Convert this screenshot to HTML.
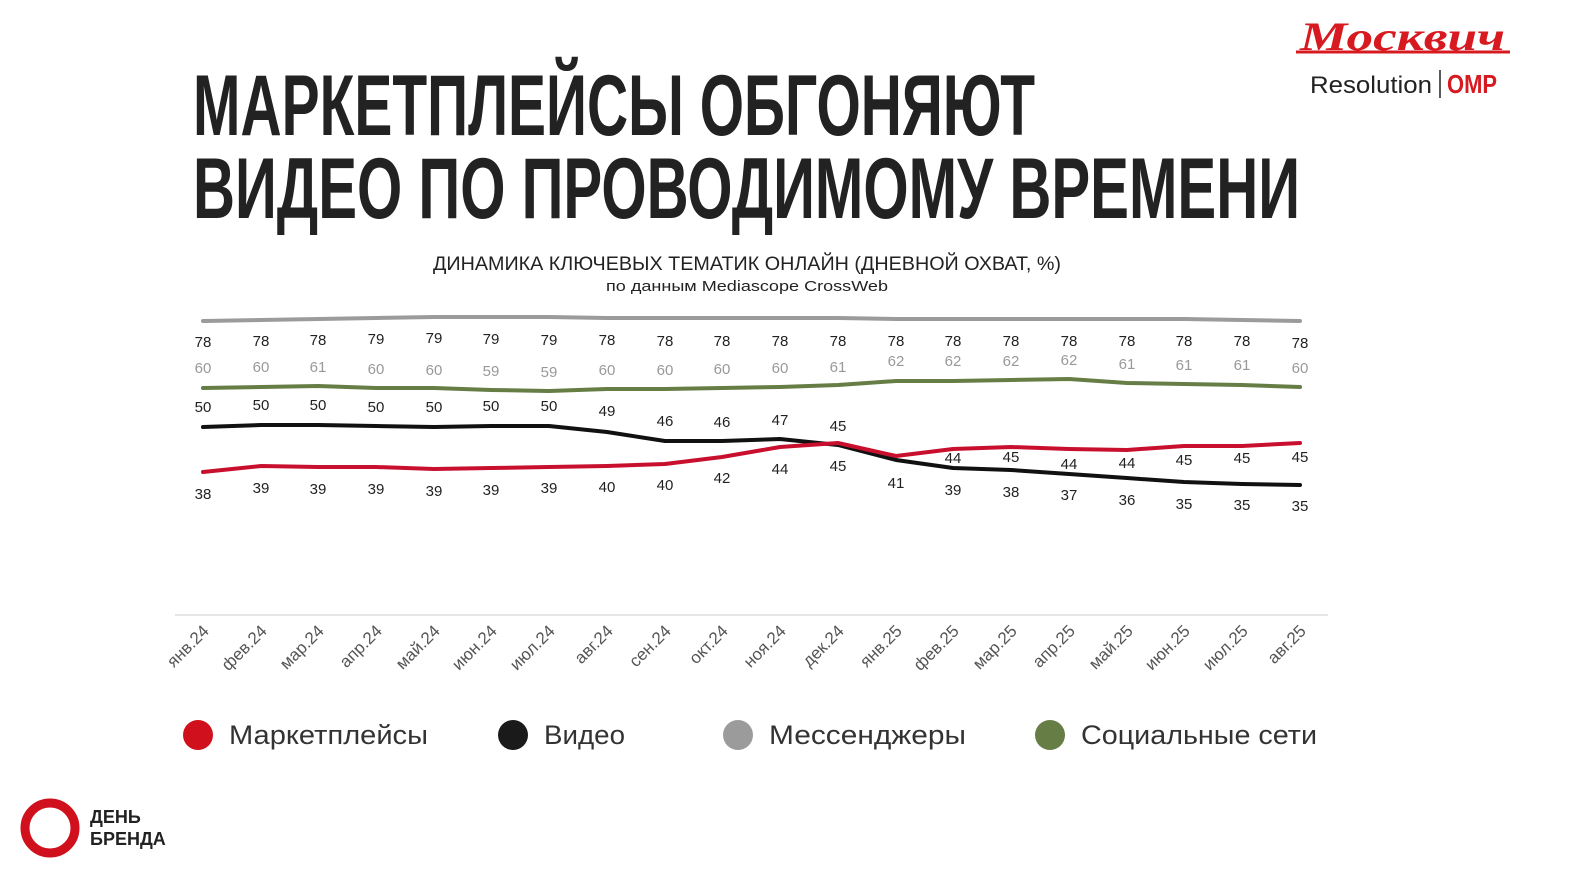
<!DOCTYPE html>
<html><head><meta charset="utf-8"><style>
body{margin:0;background:#fff;width:1577px;height:872px;overflow:hidden}
svg{display:block}
</style></head><body>
<svg width="1577" height="872" viewBox="0 0 1577 872" xmlns="http://www.w3.org/2000/svg" font-family="Liberation Sans, sans-serif">
<text x="193" y="135" font-family="Liberation Sans Narrow, Liberation Sans, sans-serif" font-weight="bold" font-size="86" fill="#222" textLength="842" lengthAdjust="spacingAndGlyphs">МАРКЕТПЛЕЙСЫ ОБГОНЯЮТ</text>
<text x="193" y="218" font-family="Liberation Sans Narrow, Liberation Sans, sans-serif" font-weight="bold" font-size="86" fill="#222" textLength="1107" lengthAdjust="spacingAndGlyphs">ВИДЕО ПО ПРОВОДИМОМУ ВРЕМЕНИ</text>
<text x="747" y="270" text-anchor="middle" font-size="19" fill="#222" textLength="628" lengthAdjust="spacingAndGlyphs">ДИНАМИКА КЛЮЧЕВЫХ ТЕМАТИК ОНЛАЙН (ДНЕВНОЙ ОХВАТ, %)</text>
<text x="747" y="291" text-anchor="middle" font-size="15" fill="#222" textLength="282" lengthAdjust="spacingAndGlyphs">по данным Mediascope CrossWeb</text>
<text x="1300" y="50" font-family="Liberation Serif, serif" font-style="italic" font-weight="bold" font-size="40" fill="#d71920" textLength="205" lengthAdjust="spacingAndGlyphs">Москвич</text>
<line x1="1296" y1="52" x2="1510" y2="52" stroke="#d71920" stroke-width="3"/>
<text x="1310" y="93" font-size="24" fill="#222" textLength="122" lengthAdjust="spacingAndGlyphs">Resolution</text>
<line x1="1440" y1="70" x2="1440" y2="98" stroke="#222" stroke-width="1.5"/>
<text x="1447" y="93" font-weight="bold" font-size="26" fill="#d71920" textLength="50" lengthAdjust="spacingAndGlyphs">OMP</text>
<g fill="none" stroke-width="4" stroke-linecap="round" stroke-linejoin="round">
<polyline stroke="#9b9b9b" points="203,321 261,320 318,319 376,318 434,317 491,317 549,317 607,318 665,318 722,318 780,318 838,318 896,319 953,319 1011,319 1069,319 1127,319 1184,319 1242,320 1300,321"/>
<polyline stroke="#667d45" points="203,388 261,387 318,386 376,388 434,388 491,390 549,391 607,389 665,389 722,388 780,387 838,385 896,381 953,381 1011,380 1069,379 1127,383 1184,384 1242,385 1300,387"/>
<polyline stroke="#111" points="203,427 261,425 318,425 376,426 434,427 491,426 549,426 607,432 665,441 722,441 780,439 838,445 896,460 953,468 1011,470 1069,474 1127,478 1184,482 1242,484 1300,485"/>
<polyline stroke="#c8102e" points="203,472 261,466 318,467 376,467 434,469 491,468 549,467 607,466 665,464 722,457 780,447 838,443 896,456 953,449 1011,447 1069,449 1127,450 1184,446 1242,446 1300,443"/>
</g>
<g font-size="15" fill="#222" text-anchor="middle">
<text x="203" y="347">78</text><text x="261" y="346">78</text><text x="318" y="345">78</text><text x="376" y="344">79</text><text x="434" y="343">79</text><text x="491" y="344">79</text><text x="549" y="345">79</text><text x="607" y="345">78</text><text x="665" y="346">78</text><text x="722" y="346">78</text><text x="780" y="346">78</text><text x="838" y="346">78</text><text x="896" y="346">78</text><text x="953" y="346">78</text><text x="1011" y="346">78</text><text x="1069" y="346">78</text><text x="1127" y="346">78</text><text x="1184" y="346">78</text><text x="1242" y="346">78</text><text x="1300" y="348">78</text>
</g>
<g font-size="15" fill="#999" text-anchor="middle">
<text x="203" y="373">60</text><text x="261" y="372">60</text><text x="318" y="372">61</text><text x="376" y="374">60</text><text x="434" y="375">60</text><text x="491" y="376">59</text><text x="549" y="377">59</text><text x="607" y="375">60</text><text x="665" y="375">60</text><text x="722" y="374">60</text><text x="780" y="373">60</text><text x="838" y="372">61</text><text x="896" y="366">62</text><text x="953" y="366">62</text><text x="1011" y="366">62</text><text x="1069" y="365">62</text><text x="1127" y="369">61</text><text x="1184" y="370">61</text><text x="1242" y="370">61</text><text x="1300" y="373">60</text>
</g>
<g font-size="15" fill="#222" text-anchor="middle">
<text x="203" y="412">50</text><text x="261" y="410">50</text><text x="318" y="410">50</text><text x="376" y="412">50</text><text x="434" y="412">50</text><text x="491" y="411">50</text><text x="549" y="411">50</text><text x="607" y="416">49</text><text x="665" y="426">46</text><text x="722" y="427">46</text><text x="780" y="425">47</text><text x="838" y="431">45</text>
<text x="896" y="488">41</text><text x="953" y="495">39</text><text x="1011" y="497">38</text><text x="1069" y="500">37</text><text x="1127" y="505">36</text><text x="1184" y="509">35</text><text x="1242" y="510">35</text><text x="1300" y="511">35</text>
<text x="203" y="499">38</text><text x="261" y="493">39</text><text x="318" y="494">39</text><text x="376" y="494">39</text><text x="434" y="496">39</text><text x="491" y="495">39</text><text x="549" y="493">39</text><text x="607" y="492">40</text><text x="665" y="490">40</text><text x="722" y="483">42</text><text x="780" y="474">44</text><text x="838" y="471">45</text>
<text x="953" y="463">44</text><text x="1011" y="462">45</text><text x="1069" y="469">44</text><text x="1127" y="468">44</text><text x="1184" y="465">45</text><text x="1242" y="463">45</text><text x="1300" y="462">45</text>
</g>
<line x1="175" y1="615" x2="1328" y2="615" stroke="#ddd" stroke-width="1.5"/>
<g font-size="17" fill="#555" text-anchor="end">
<text transform="translate(210,632) rotate(-45)">янв.24</text>
<text transform="translate(268,632) rotate(-45)">фев.24</text>
<text transform="translate(325,632) rotate(-45)">мар.24</text>
<text transform="translate(383,632) rotate(-45)">апр.24</text>
<text transform="translate(441,632) rotate(-45)">май.24</text>
<text transform="translate(498,632) rotate(-45)">июн.24</text>
<text transform="translate(556,632) rotate(-45)">июл.24</text>
<text transform="translate(614,632) rotate(-45)">авг.24</text>
<text transform="translate(672,632) rotate(-45)">сен.24</text>
<text transform="translate(729,632) rotate(-45)">окт.24</text>
<text transform="translate(787,632) rotate(-45)">ноя.24</text>
<text transform="translate(845,632) rotate(-45)">дек.24</text>
<text transform="translate(903,632) rotate(-45)">янв.25</text>
<text transform="translate(960,632) rotate(-45)">фев.25</text>
<text transform="translate(1018,632) rotate(-45)">мар.25</text>
<text transform="translate(1076,632) rotate(-45)">апр.25</text>
<text transform="translate(1134,632) rotate(-45)">май.25</text>
<text transform="translate(1191,632) rotate(-45)">июн.25</text>
<text transform="translate(1249,632) rotate(-45)">июл.25</text>
<text transform="translate(1307,632) rotate(-45)">авг.25</text>
</g>
<g font-size="27" fill="#333">
<circle cx="198" cy="735" r="15" fill="#d0101c"/><text x="229" y="744" textLength="199" lengthAdjust="spacingAndGlyphs">Маркетплейсы</text>
<circle cx="513" cy="735" r="15" fill="#1a1a1a"/><text x="544" y="744" textLength="81" lengthAdjust="spacingAndGlyphs">Видео</text>
<circle cx="738" cy="735" r="15" fill="#9b9b9b"/><text x="769" y="744" textLength="197" lengthAdjust="spacingAndGlyphs">Мессенджеры</text>
<circle cx="1050" cy="735" r="15" fill="#667d45"/><text x="1081" y="744" textLength="236" lengthAdjust="spacingAndGlyphs">Социальные сети</text>
</g>
<circle cx="50" cy="828" r="25" fill="none" stroke="#d0101c" stroke-width="9"/>
<g font-size="18" font-weight="bold" fill="#222"><text x="90" y="823">ДЕНЬ</text><text x="90" y="845">БРЕНДА</text></g>
</svg>
</body></html>
